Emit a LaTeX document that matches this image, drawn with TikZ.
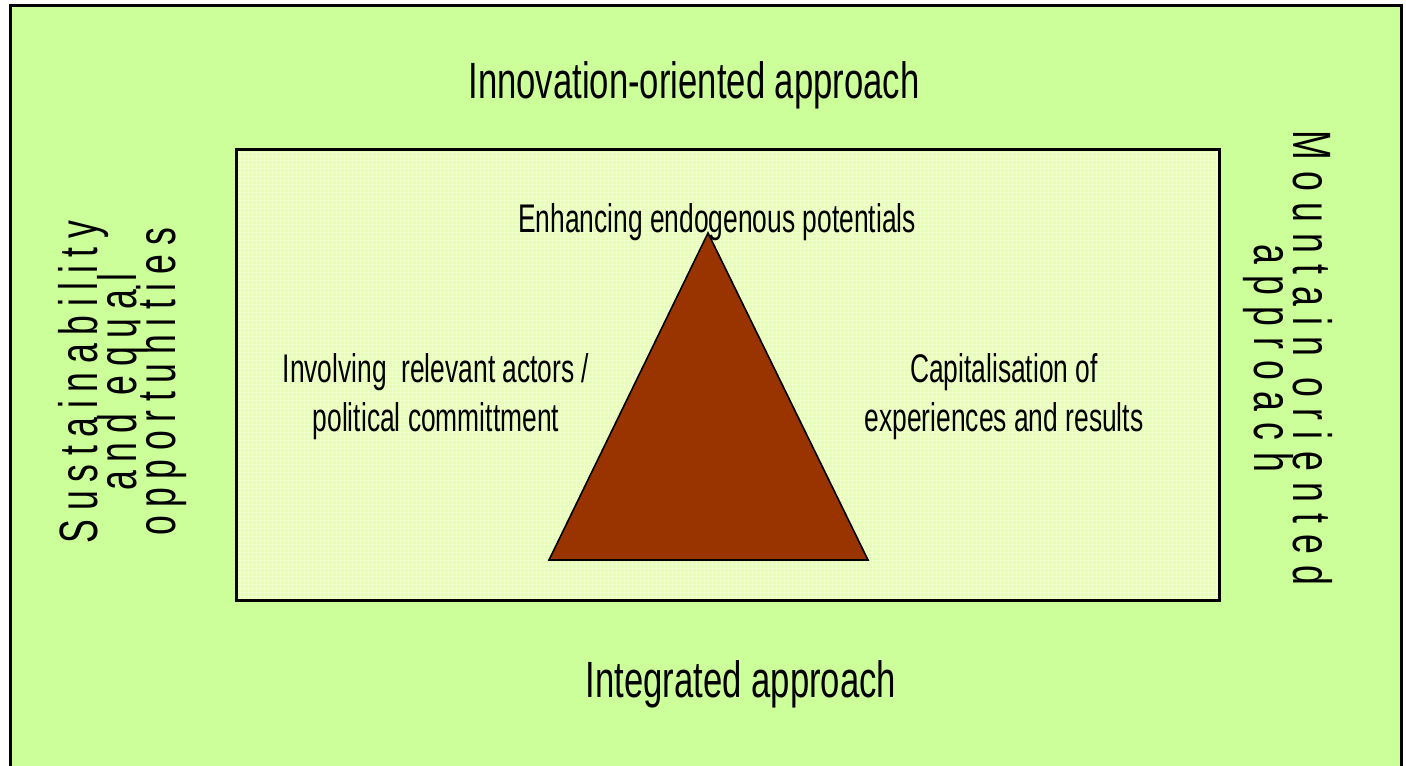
\documentclass[tikz,border=0pt]{standalone}
\usepackage{fontspec}
\usepackage{xcolor}
\newfontfamily\titlefont[FakeStretch=0.68]{Liberation Sans}
\newfontfamily\innerfont[FakeStretch=0.66]{Liberation Sans}
\newfontfamily\sidefont[FakeStretch=0.66,LetterSpace=16]{Liberation Sans}
\newfontfamily\widesidefont[FakeStretch=0.66,LetterSpace=21]{Liberation Sans}
\newcommand{\tightlines}{\fontsize{27}{19.5}\selectfont\setlength{\lineskiplimit}{-30pt}\setlength{\lineskip}{0pt}}
\definecolor{outergreen}{HTML}{CCFF99}
\definecolor{panelgreen}{HTML}{E4FFB4}
\definecolor{gridgreen}{HTML}{F0FFCC}
\definecolor{brick}{HTML}{993300}
\tikzset{
  heading/.style={font=\titlefont\fontsize{25.5}{29}\selectfont, anchor=base, inner sep=0pt},
  innerlabel/.style={font=\innerfont\fontsize{20}{24.5}\selectfont, align=center, inner sep=0pt},
  sidelabel/.style={font=\sidefont\tightlines, align=center, inner sep=0pt}
}

\begin{document}
\begin{tikzpicture}[x=0.5pt,y=-0.5pt]
\useasboundingbox (0,0) rectangle (1406,765);
% outer frame, its bottom edge runs off the page
\draw[black, line width=1.5pt, fill=outergreen] (10,6) rectangle (1401,775);
% inner panel with its fine grid
\fill[panelgreen] (236,149) rectangle (1219,600);
\draw[gridgreen, line width=0.4pt, step=2pt] (236,149) grid (1219,600);
\draw[black, line width=1.5pt] (236,149) rectangle (1219,600);
% the triangle
\coordinate (apex) at (708,233);
\coordinate (baseleft) at (549,560);
\coordinate (baseright) at (868,560);
\filldraw[fill=brick, draw=black, line width=0.8pt] (apex) -- (baseright) -- (baseleft) -- cycle;
% approaches round the panel
\node[heading] (innovation) at (694,98) {Innovation-oriented approach};
\node[heading] (integrated) at (741,697) {Integrated approach};
\node[sidelabel, rotate=90] (sustain) at (123,382) {Sustainability\\and equal\\opportunities};
\node[sidelabel, rotate=-90, font=\widesidefont\tightlines] (mountain) at (1288,358) {Mountain oriented\\approach};
% corners of the triangle
\node[innerlabel, anchor=base] (endogenous) at (717,232) {Enhancing endogenous potentials};
\node[innerlabel] (actors) at (436,397) {Involving~ relevant actors /\\political committment};
\node[innerlabel] (capital) at (1004,397) {Capitalisation of\\experiences and results};
%\draw[red] (apex) -- (endogenous);
\end{tikzpicture}
\end{document}
